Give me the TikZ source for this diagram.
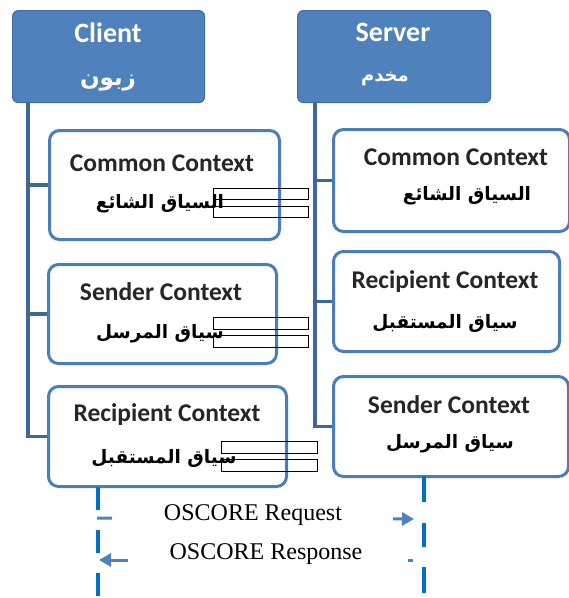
\documentclass[tikz,border=0pt]{standalone}
\usepackage{fontspec}
\setmainfont{Liberation Serif}
\newfontfamily\calib{Carlito}
\newfontfamily\arab[Script=Arabic]{DejaVu Sans}
\TeXXeTstate=1
\usetikzlibrary{arrows.meta,calc}
\definecolor{hdrblue}{RGB}{79,129,189}
\definecolor{edgeblue}{RGB}{74,126,187}
\definecolor{trunkblue}{RGB}{62,104,150}
\definecolor{lifeblue}{RGB}{0,112,192}
\tikzset{
  header/.style={draw=hdrblue!85!black, fill=hdrblue, line width=1.2pt, rounded corners=6pt, anchor=north west},
  ctxbox/.style={draw=edgeblue, fill=white, line width=3pt, rounded corners=10pt, anchor=north west},
  hdrlatin/.style={text=white, font=\calib\bfseries\fontsize{28}{28}\selectfont},
  hdrarab/.style={text=white, font=\arab\bfseries\fontsize{23}{23}\selectfont},
  ctxlatin/.style={text=black!85, font=\calib\bfseries\fontsize{25.5}{25.5}\selectfont},
  ctxarab/.style={text=black, font=\arab\bfseries\fontsize{18.5}{18.5}\selectfont},
  trunk/.style={draw=trunkblue, line width=3.5pt},
  lifeline/.style={draw=lifeblue, line width=4pt, dash pattern=on 23pt off 20pt},
  msg/.style={draw=hdrblue, line width=3pt, -{Triangle[length=12pt,width=13pt]}},
  ghost/.style={draw=black, line width=0.8pt},
  msglabel/.style={font=\fontsize{24}{24}\selectfont}
}
\begin{document}
\begin{tikzpicture}[x=1pt,y=-1pt]
\useasboundingbox (0,0) rectangle (569,598);

% --- headers
\node[header, minimum width=192pt, minimum height=92pt] (client) at (12,10) {};
\node[hdrlatin] (clientt) at (108,33) {Client};
\node[hdrarab] (clienta) at (108,83) {\beginR زبون\endR};
\node[header, minimum width=193pt, minimum height=92pt] (server) at (297,10) {};
\node[hdrlatin] (servert) at (393,32) {Server};
\node[hdrarab, font=\arab\bfseries\fontsize{18}{18}\selectfont] (servera) at (385,79) {\beginR مخدم\endR};

% --- client contexts
\node[ctxbox, minimum width=230pt, minimum height=109pt] (ccom) at (48,129) {};
\node[ctxlatin] (ccomt) at (162,163) {Common Context};
\node[ctxarab] (ccoma) at (160,204) {\beginR السياق الشائع\endR};

\node[ctxbox, minimum width=228pt, minimum height=99pt] (csnd) at (47,263) {};
\node[ctxlatin] (csndt) at (161,292) {Sender Context};
\node[ctxarab] (csnda) at (160,334) {\beginR سياق المرسل\endR};

\node[ctxbox, minimum width=238pt, minimum height=100pt] (crcp) at (47,385) {};
\node[ctxlatin] (crcpt) at (167,415) {Recipient Context};
\node[ctxarab] (crcpa) at (164,458) {\beginR سياق المستقبل\endR};

% --- server contexts
\node[ctxbox, minimum width=236pt, minimum height=102pt] (scom) at (332,128) {};
\node[ctxlatin] (scomt) at (456,157) {Common Context};
\node[ctxarab] (scoma) at (467,196) {\beginR السياق الشائع\endR};

\node[ctxbox, minimum width=226pt, minimum height=100pt] (srcp) at (332,250) {};
\node[ctxlatin] (srcpt) at (445,282) {Recipient Context};
\node[ctxarab] (srcpa) at (445,323) {\beginR سياق المستقبل\endR};

\node[ctxbox, minimum width=235pt, minimum height=100pt] (ssnd) at (332,375) {};
\node[ctxlatin] (ssndt) at (449,405) {Sender Context};
\node[ctxarab] (ssnda) at (450,444) {\beginR سياق المرسل\endR};

% --- trunks joining each header to its contexts
\coordinate (ctop) at (28,102);
\coordinate (stop) at (315,102);
\draw[trunk] (ctop) |- (crcp.west);
\draw[trunk] (ctop |- ccom.west) -- (ccom.west);
\draw[trunk] (ctop |- csnd.west) -- (csnd.west);
\draw[trunk] (stop) |- (ssnd.west);
\draw[trunk] (stop |- scom.west) -- (scom.west);
\draw[trunk] (stop |- srcp.west) -- (srcp.west);

% --- empty frames laid over the client labels
\draw[ghost] (213,188) rectangle (308,199);
\draw[ghost] (213,206) rectangle (308,217);
\draw[ghost] (213,317) rectangle (308,329);
\draw[ghost] (213,335) rectangle (308,347);
\draw[ghost] (221,441) rectangle (317,453);
\draw[ghost] (221,459) rectangle (317,471);

% --- lifelines
\coordinate (cl0) at (98,487);
\coordinate (cl1) at (98,598);
\coordinate (sl0) at (424,476);
\coordinate (sl1) at (424,596);
\draw[lifeline] (cl0) -- (cl1);
\draw[lifeline, dash pattern=on 26pt off 21pt on 24pt off 20pt] (sl0) -- (sl1);

% --- messages
\coordinate (rq0) at (97,518);
\coordinate (rq1) at (414,519);
\draw[msg, dash pattern=on 15pt off 281pt on 20pt] (rq0) -- (rq1);
\coordinate (rs0) at (413,560);
\coordinate (rs1) at (99,560);
\draw[msg, dash pattern=on 5pt off 280pt on 30pt] (rs0) -- (rs1);
\node[msglabel] (rqt) at (253,515) {OSCORE Request};
\node[msglabel] (rst) at (266,554) {OSCORE Response};
\end{tikzpicture}
\end{document}
